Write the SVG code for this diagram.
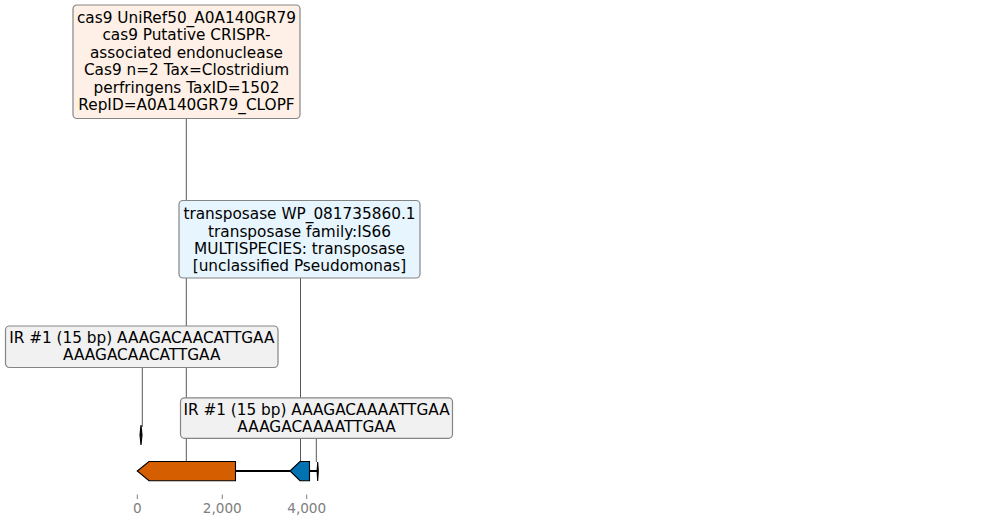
<svg xmlns="http://www.w3.org/2000/svg" width="989" height="526" viewBox="0 0 989 526">
<style>
text{font-family:"DejaVu Sans","Liberation Sans",sans-serif;font-size:15.3px;fill:#000;text-anchor:middle}
.box{stroke:#858585;stroke-width:1.2}
.lead{stroke:#444;stroke-width:0.9;fill:none}
.axis text{font-size:13.6px;fill:#808080}
.tick{stroke:#808080;stroke-width:1}
.feat{stroke:#000;stroke-width:1.1}
</style>
<rect width="989" height="526" fill="#fff"/>
<g id="connectors">
<line class="lead" x1="186.3" y1="118.5" x2="186.3" y2="461.5"/>
<line class="lead" x1="300.5" y1="278" x2="300.5" y2="461.5"/>
<line class="lead" x1="142.3" y1="367.5" x2="142.3" y2="427"/>
<line class="lead" x1="316.3" y1="438.5" x2="316.3" y2="462"/>
</g>
<g id="backbone">
<line x1="137.5" y1="471" x2="317.7" y2="471" stroke="#000" stroke-width="2"/>
</g>
<g id="gene-cas9">
<path class="feat" fill="#d55e00" d="M137.3,471 L149,461.5 L235.5,461.5 L235.5,480.7 L149,480.7 Z"/>
</g>
<g id="gene-transposase">
<path class="feat" fill="#0072b2" d="M290,471 L300,461.5 L309.5,461.5 L309.5,480.7 L300,480.7 Z"/>
</g>
<g id="ir-right-feature">
<path class="feat" fill="#000" d="M317.7,462 L318.3,471 L317.7,481 L317.1,471 Z"/>
</g>
<g id="ir-left-feature">
<path class="feat" fill="#000" d="M141,425 L142,435 L141,445 L140,435 Z"/>
</g>
<g id="label-cas9">
<rect class="box" x="73" y="5" width="227" height="113.5" rx="4" fill="#fef0e6"/>
<text x="186.5" y="22.7">cas9 UniRef50_A0A140GR79</text>
<text x="186.5" y="40.2">cas9 Putative CRISPR-</text>
<text x="186.5" y="57.6">associated endonuclease</text>
<text x="186.5" y="75.1">Cas9 n=2 Tax=Clostridium</text>
<text x="186.5" y="92.6">perfringens TaxID=1502</text>
<text x="186.5" y="110">RepID=A0A140GR79_CLOPF</text>
</g>
<g id="label-transposase">
<rect class="box" x="179" y="200.5" width="241" height="77.5" rx="4" fill="#e6f5fe"/>
<text x="299.5" y="219">transposase WP_081735860.1</text>
<text x="299.5" y="236.5">transposase family:IS66</text>
<text x="299.5" y="254">MULTISPECIES: transposase</text>
<text x="299.5" y="271.3">[unclassified Pseudomonas]</text>
</g>
<g id="label-ir-left">
<rect class="box" x="5.5" y="326" width="272.5" height="41.5" rx="4" fill="#f1f1f1"/>
<text x="141.8" y="343">IR #1 (15 bp) AAAGACAACATTGAA</text>
<text x="141.8" y="360.3">AAAGACAACATTGAA</text>
</g>
<g id="label-ir-right">
<rect class="box" x="180.5" y="397.8" width="272" height="40.5" rx="4" fill="#f1f1f1"/>
<text x="316.5" y="414.5">IR #1 (15 bp) AAAGACAAAATTGAA</text>
<text x="316.5" y="431.5">AAAGACAAAATTGAA</text>
</g>
<g id="axis" class="axis">
<line class="tick" x1="137.3" y1="494.5" x2="137.3" y2="499"/>
<line class="tick" x1="222.3" y1="494.5" x2="222.3" y2="499"/>
<line class="tick" x1="306.7" y1="494.5" x2="306.7" y2="499"/>
<text x="137.3" y="513">0</text>
<text x="222.3" y="513">2,000</text>
<text x="306.7" y="513">4,000</text>
</g>
</svg>
